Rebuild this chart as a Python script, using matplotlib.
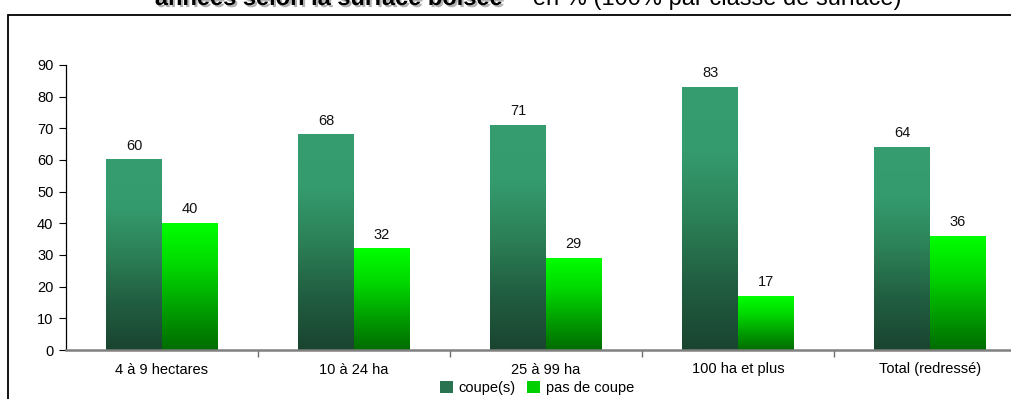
import numpy as np
import matplotlib
matplotlib.use("Agg")
from matplotlib import pyplot as plt
from matplotlib.patches import Rectangle
from matplotlib.colors import LinearSegmentedColormap
import matplotlib.patheffects as pe

plt.rcParams['font.family'] = ['Liberation Sans', 'DejaVu Sans']

# données
categories = ["4 à 9 hectares", "10 à 24 ha", "25 à 99 ha", "100 ha et plus", "Total (redressé)"]
coupe = [60, 68, 71, 83, 64]
pas_de_coupe = [40, 32, 29, 17, 36]
series_names = ["coupe(s)", "pas de coupe"]

W, H = 1012, 399
fig = plt.figure(figsize=(W / 100, H / 100), dpi=100)

# cadre de la zone graphique (coupé à droite et en bas)
frame = Rectangle((8 / W, -0.1), 1.2, 1 - 15 / H + 0.1, transform=fig.transFigure,
                  fill=False, edgecolor="black", linewidth=1.3)
fig.add_artist(frame)

# titre (à moitié coupé en haut)
fig.text(503 / W, 1 - 5 / H, "années selon la surface boisée", ha="right", va="baseline",
         fontsize=17, fontweight="bold", color="black",
         path_effects=[pe.withSimplePatchShadow(offset=(1.5, -1.5), shadow_rgbFace="gray", alpha=0.6)])
fig.text(513 / W, 1 - 5 / H, "– en % (100% par classe de surface)", ha="left", va="baseline",
         fontsize=17, color="black")

ax = fig.add_axes([66 / W, 1 - 350 / H, 960 / W, 285 / H])

x = np.arange(len(categories))
bw = 0.29

cmap_coupe = LinearSegmentedColormap.from_list("coupe", ["#1a4430", "#215e41", "#2c8057", "#349b6e", "#369d70"])
cmap_pas = LinearSegmentedColormap.from_list("pas", ["#006c00", "#00a000", "#00d800", "#00ff00"])

b1 = ax.bar(x - bw / 2, coupe, bw, facecolor="none", edgecolor="none", label=series_names[0])
b2 = ax.bar(x + bw / 2, pas_de_coupe, bw, facecolor="none", edgecolor="none", label=series_names[1])

grad = np.linspace(0, 1, 256).reshape(-1, 1)
for bars, cmap in ((b1, cmap_coupe), (b2, cmap_pas)):
    for p in bars:
        x0, y0 = p.get_x(), p.get_y()
        w, h = p.get_width(), p.get_height()
        ax.imshow(grad, cmap=cmap, origin="lower", aspect="auto",
                  extent=(x0, x0 + w, y0, y0 + h), zorder=2, interpolation="bilinear")
        ax.annotate(f"{h:g}", (x0 + w / 2, h), xytext=(0, 5), textcoords="offset points",
                    ha="center", va="bottom", fontsize=10.5, color="#111111")

ax.set_xlim(-0.5, len(categories) - 0.5)
ax.set_ylim(0, 90)
ax.set_yticks(range(0, 91, 10))
ax.tick_params(axis="y", labelsize=10.5, length=5, width=0.8, pad=4)
ax.set_xticks(x)
ax.set_xticklabels(categories)
ax.tick_params(axis="x", which="major", length=0, labelsize=10.5, pad=9)
ax.set_xticks(np.arange(0.5, len(categories) - 0.5), minor=True)
ax.tick_params(axis="x", which="minor", length=5, width=1, color="#707070")

for s in ("top", "right"):
    ax.spines[s].set_visible(False)
ax.spines["left"].set_linewidth(0.9)
ax.spines["bottom"].set_color("#808080")
ax.spines["bottom"].set_linewidth(1.8)
ax.spines["bottom"].set_zorder(3)

handles = [Rectangle((0, 0), 1, 1, facecolor="#2a7350"), Rectangle((0, 0), 1, 1, facecolor="#00d000")]
fig.legend(handles, series_names, loc="center", bbox_to_anchor=(537 / W, 1 - 388 / H), ncol=2,
           frameon=False, fontsize=10.5, handlelength=0.9, handleheight=0.8, handletextpad=0.4,
           columnspacing=0.8, borderaxespad=0)

plt.savefig("out.png", dpi=100)
